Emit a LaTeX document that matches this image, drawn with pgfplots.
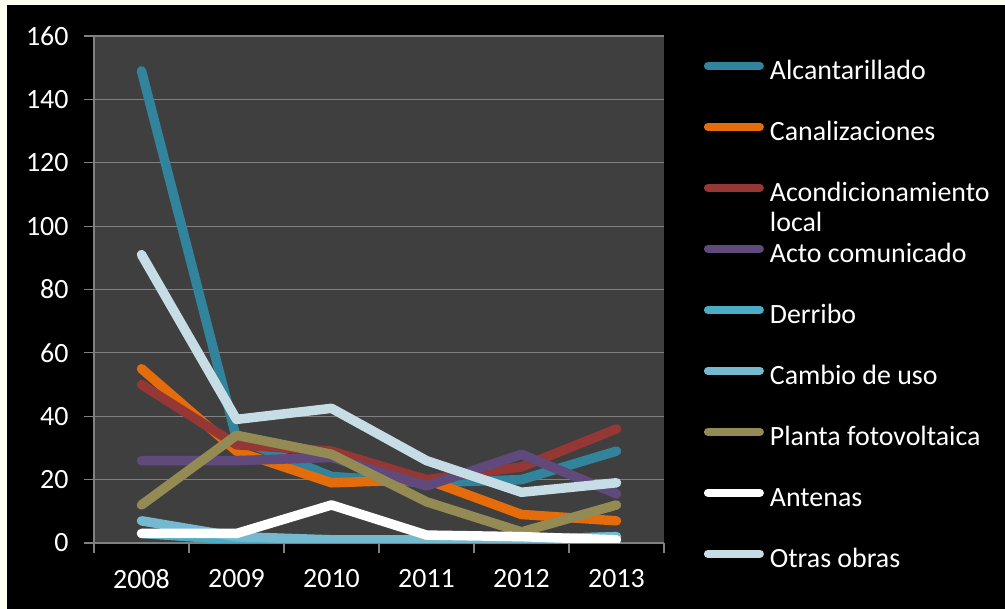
\documentclass[border=0pt]{standalone}
\usepackage{fontspec}
\setmainfont{Carlito}
\usepackage{pgfplots}
\pgfplotsset{compat=1.18}
\definecolor{cTeal}{HTML}{31849B}
\definecolor{cOrange}{HTML}{E46C0A}
\definecolor{cRed}{HTML}{953735}
\definecolor{cPurple}{HTML}{604A7B}
\definecolor{cDerribo}{HTML}{4BACC6}
\definecolor{cCambio}{HTML}{74B9D0}
\definecolor{cOlive}{HTML}{948A54}
\definecolor{cOtras}{HTML}{C6DDE5}
\definecolor{cBg}{HTML}{3F3F3F}
\definecolor{cGrid}{HTML}{808080}
\definecolor{cCream}{HTML}{FFFFF2}
\begin{document}
\begin{tikzpicture}[x=1bp,y=1bp]
\fill[cCream] (0,0) rectangle (1005,609);
\fill[black] (7,0) rectangle (1005,604);
\useasboundingbox (0,0) rectangle (1005,609);
\begin{axis}[
  at={(94bp,66bp)}, anchor=south west,
  scale only axis, width=570bp, height=507bp,
  xmin=-0.5, xmax=5.5, ymin=0, ymax=160,
  xtick={0,1,2,3,4,5},
  xticklabels={2008,2009,2010,2011,2012,2013},
  minor xtick={-0.5,0.5,1.5,2.5,3.5,4.5,5.5},
  ytick={0,20,...,160},
  axis x line*=bottom, axis y line*=left,
  axis line style={-, draw=cGrid, line width=1.2bp},
  tick align=outside,
  major tick length=10bp, minor tick length=10bp,
  tick style={draw=cGrid, line width=1.2bp},
  xtick style={draw=none},
  minor x tick style={draw=cGrid, line width=1.2bp},
  ymajorgrids,
  major grid style={draw=cGrid, line width=1.2bp},
  axis background/.style={fill=cBg},
  /pgf/number format/assume math mode=true,
  ticklabel style={font=\fontsize{28}{32}\selectfont, text=white},
  yticklabel style={xshift=-12bp},
  xticklabel style={yshift=-13bp},
  every axis plot/.append style={line width=9.5bp, line cap=round, line join=round, mark=none},
  legend cell align=left,
  legend style={
    at={(axis description cs:1.07,0.953)}, anchor=north west,
    draw=none, fill=none, inner sep=0pt, outer sep=0pt,
    font=\fontsize{28}{30}\selectfont, text=white,
    row sep=35bp,
    nodes={inner sep=0pt, text height=20bp, text depth=6bp},
    /tikz/every odd column/.append style={column sep=6bp},
  },
  legend image code/.code={
    \draw[line width=8bp, line cap=round] (0bp,7bp) -- (52bp,7bp);
  },
]
\addplot[cTeal] coordinates {(0,149) (1,33) (2,21) (3,19) (4,20) (5,29)};
\addlegendentry{Alcantarillado}
\addplot[cOrange] coordinates {(0,55) (1,29) (2,19) (3,20) (4,9) (5,7)};
\addlegendentry{Canalizaciones}
\addplot[cRed] coordinates {(0,50) (1,31) (2,29) (3,20) (4,24) (5,36)};
\addlegendentry{\smash{\vtop{\hbox{Acondicionamiento}\hbox{local}}}}
\addplot[cPurple] coordinates {(0,26) (1,26) (2,27) (3,18) (4,28) (5,15.5)};
\addlegendentry{Acto comunicado}
\addplot[cDerribo] coordinates {(0,3) (1,1) (2,1) (3,1) (4,1) (5,2)};
\addlegendentry{Derribo}
\addplot[cCambio] coordinates {(0,7) (1,2) (2,1) (3,1) (4,1) (5,2)};
\addlegendentry{Cambio de uso}
\addplot[cOlive] coordinates {(0,12) (1,34) (2,28) (3,13) (4,3.5) (5,12)};
\addlegendentry{Planta fotovoltaica}
\addplot[white] coordinates {(0,3) (1,3) (2,12) (3,2.5) (4,2) (5,1)};
\addlegendentry{Antenas}
\addplot[cOtras] coordinates {(0,91) (1,39) (2,42.5) (3,26) (4,16) (5,19)};
\addlegendentry{Otras obras}
\end{axis}
\end{tikzpicture}
\end{document}
